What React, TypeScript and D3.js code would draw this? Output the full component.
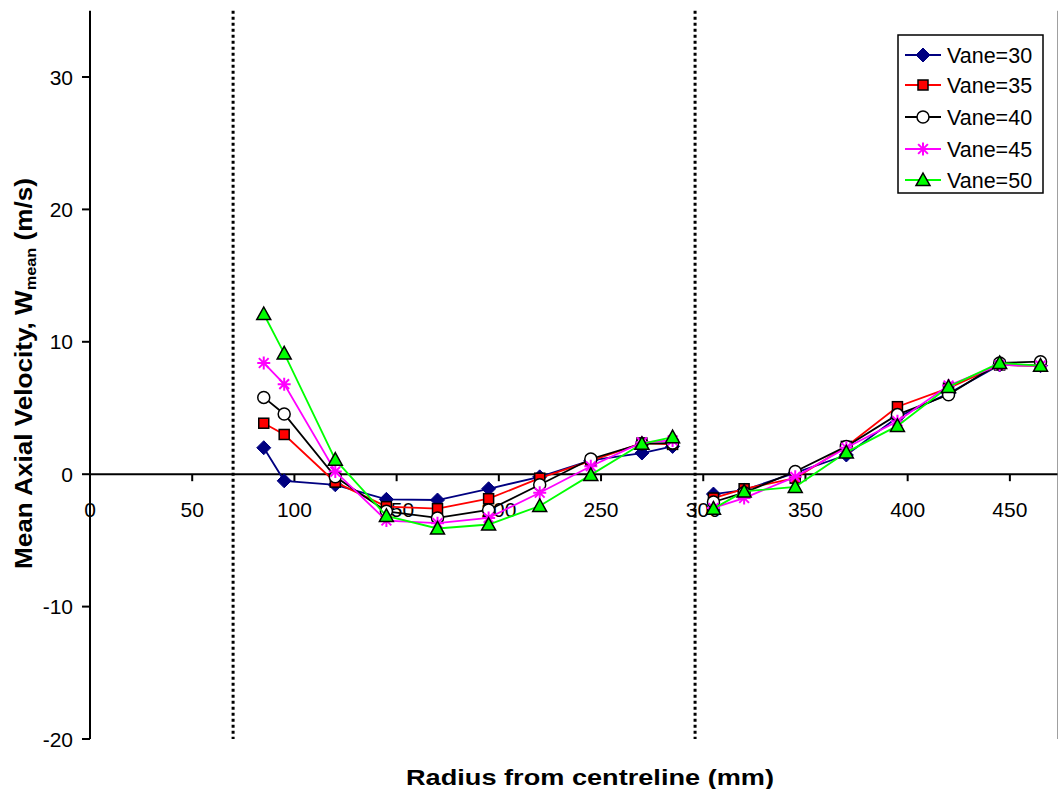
import React from "react";
import * as d3 from "d3";

const radius = [85, 95, 120, 145, 170, 195, 220, 245, 270, 285, 305, 320, 345, 370, 395, 420, 445, 465];
const vane30 = [2.0, -0.5, -0.8, -1.9, -1.95, -1.1, -0.2, 1.05, 1.6, 2.1, -1.5, -1.2, 0.1, 1.45, 4.3, 6.1, 8.25, 8.2];
const vane35 = [3.85, 3.0, -0.6, -2.45, -2.6, -1.85, -0.3, 1.0, 2.35, 2.25, -1.8, -1.1, -0.3, 2.1, 5.1, 6.5, 8.25, 8.2];
const vane40 = [5.8, 4.55, -0.2, -2.8, -3.3, -2.7, -0.8, 1.15, 2.3, 2.35, -2.1, -1.4, 0.2, 2.1, 4.5, 6.0, 8.4, 8.5];
const vane45 = [8.4, 6.8, 0.2, -3.5, -3.7, -3.3, -1.4, 0.6, 2.4, 2.55, -2.55, -1.8, -0.2, 2.0, 4.0, 6.7, 8.25, 8.2];
const vane50 = [12.1, 9.13, 1.1, -3.15, -4.1, -3.8, -2.4, -0.05, 2.3, 2.8, -2.6, -1.3, -0.95, 1.65, 3.65, 6.6, 8.4, 8.2];
const seriesNames = ["Vane=30", "Vane=35", "Vane=40", "Vane=45", "Vane=50"];
const xTicks = [0, 50, 100, 150, 200, 250, 300, 350, 400, 450];
const yTicks = [-20, -10, 0, 10, 20, 30];
const dividers = [70, 296];

const allSeries = [vane30, vane35, vane40, vane45, vane50];
const colors = ["#000080", "#FF0000", "#000000", "#FF00FF", "#00FF00"];

const W = 1060;
const H = 789;
const x = d3.scaleLinear().domain([0, 473.3]).range([90, 1057.5]);
const y = d3.scaleLinear().domain([-20, 35]).range([739, 10.8]);

function Marker({ kind, cx, cy }: { kind: number; cx: number; cy: number }) {
  if (kind === 0) {
    const s = 7;
    return <path d={`M${cx},${cy - s}L${cx + s},${cy}L${cx},${cy + s}L${cx - s},${cy}Z`} fill="#000080" stroke="#000080" strokeWidth={1} />;
  }
  if (kind === 1) {
    const s = 5;
    return <rect x={cx - s} y={cy - s} width={2 * s} height={2 * s} fill="#FF0000" stroke="#000" strokeWidth={1.5} />;
  }
  if (kind === 2) {
    return <circle cx={cx} cy={cy} r={6} fill="#fff" stroke="#000" strokeWidth={1.5} />;
  }
  if (kind === 3) {
    const s = 6.5;
    const d = s * 0.75;
    return (
      <path
        d={`M${cx - s},${cy}L${cx + s},${cy}M${cx},${cy - s}L${cx},${cy + s}M${cx - d},${cy - d}L${cx + d},${cy + d}M${cx - d},${cy + d}L${cx + d},${cy - d}`}
        stroke="#FF00FF"
        strokeWidth={2}
        fill="none"
      />
    );
  }
  const s = 7;
  return <path d={`M${cx},${cy - s}L${cx + s},${cy + s * 0.8}L${cx - s},${cy + s * 0.8}Z`} fill="#00FF00" stroke="#000" strokeWidth={1.5} />;
}

export default function App() {
  const line = d3
    .line<[number, number]>()
    .x((d) => x(d[0]))
    .y((d) => y(d[1]));

  const segs = (vals: number[]) => {
    const pts: [number, number][] = radius.map((r, i) => [r, vals[i]]);
    return [pts.filter((p) => p[0] < 300), pts.filter((p) => p[0] > 300)];
  };

  const font = "'Liberation Sans', Arial, sans-serif";
  const legendX = 898;
  const legendY = 35;
  const legendRows = [55, 85, 117, 149, 180];

  return (
    <div style={{ position: "fixed", left: 0, top: 0 }}>
      <svg width={W} height={H} style={{ display: "block", background: "#fff" }} fontFamily={font}>
        {/* right plot edge */}
        <line x1={1057.5} x2={1057.5} y1={y(35)} y2={y(-20)} stroke="#a0a0a0" strokeWidth={1} />
        {/* dividers */}
        {dividers.map((d) => (
          <line key={d} x1={x(d)} x2={x(d)} y1={y(35)} y2={y(-20)} stroke="#000" strokeWidth={3} strokeDasharray="3,3" />
        ))}
        {/* y axis */}
        <line x1={90} x2={90} y1={y(35)} y2={y(-20)} stroke="#000" strokeWidth={2} />
        {yTicks.map((t) => (
          <g key={t}>
            <line x1={82} x2={90} y1={y(t)} y2={y(t)} stroke="#000" strokeWidth={2} />
            <text x={73} y={y(t)} dy="0.36em" textAnchor="end" fontSize={21}>
              {t}
            </text>
          </g>
        ))}
        {/* x axis at zero */}
        <line x1={90} x2={1057.5} y1={y(0)} y2={y(0)} stroke="#000" strokeWidth={2} />
        {xTicks.map((t) => (
          <g key={t}>
            <line x1={x(t)} x2={x(t)} y1={y(0)} y2={y(0) + 7} stroke="#000" strokeWidth={2} />
            <text x={x(t)} y={517} textAnchor="middle" fontSize={21}>
              {t}
            </text>
          </g>
        ))}
        {/* series */}
        {allSeries.map((vals, si) => (
          <g key={si}>
            {segs(vals).map((seg, k) => (
              <path key={k} d={line(seg) || ""} fill="none" stroke={colors[si]} strokeWidth={1.8} />
            ))}
            {radius.map((r, i) => (
              <Marker key={i} kind={si} cx={x(r)} cy={y(vals[i])} />
            ))}
          </g>
        ))}
        {/* legend */}
        <rect x={legendX} y={legendY} width={145} height={158} fill="#fff" stroke="#000" strokeWidth={1.5} />
        {seriesNames.map((n, i) => (
          <g key={n}>
            <line x1={905} x2={941} y1={legendRows[i]} y2={legendRows[i]} stroke={colors[i]} strokeWidth={1.8} />
            <Marker kind={i} cx={923} cy={legendRows[i]} />
            <text x={947} y={legendRows[i]} dy="0.36em" fontSize={21.5}>
              {n}
            </text>
          </g>
        ))}
        {/* axis titles */}
        <text x={590} y={785} textAnchor="middle" fontSize={22} fontWeight="bold" textLength={368} lengthAdjust="spacingAndGlyphs">
          Radius from centreline (mm)
        </text>
        <text
          transform={`translate(32,${373.5}) rotate(-90)`}
          textAnchor="middle"
          fontSize={24}
          fontWeight="bold"
          textLength={391}
          lengthAdjust="spacingAndGlyphs"
        >
          Mean Axial Velocity, W
          <tspan fontSize={15} dy={4}>mean</tspan>
          <tspan dy={-4}> (m/s)</tspan>
        </text>
      </svg>
    </div>
  );
}
